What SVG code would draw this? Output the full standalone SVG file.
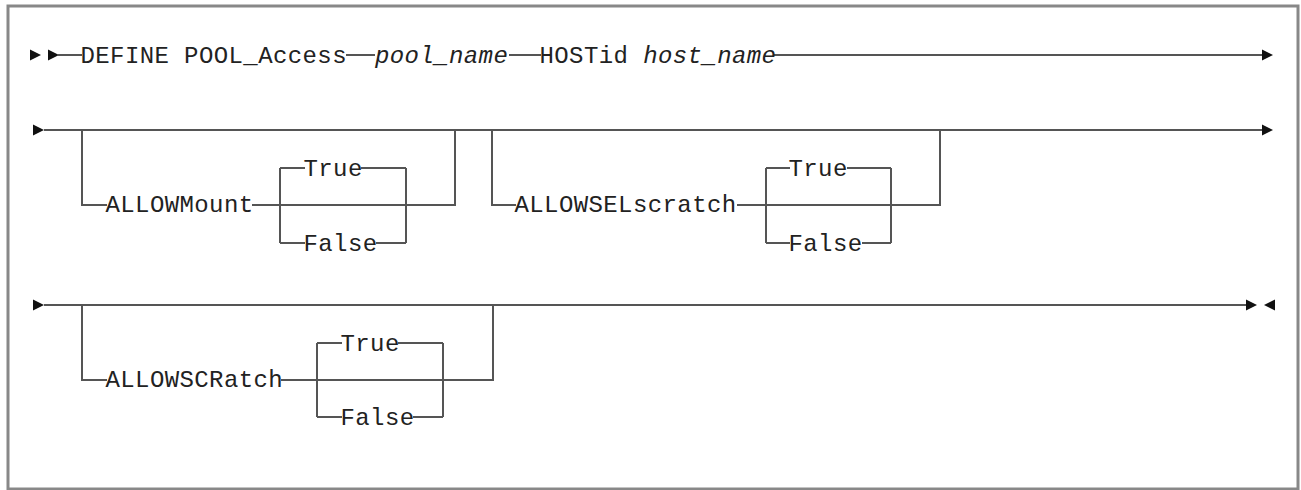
<svg xmlns="http://www.w3.org/2000/svg" width="1301" height="490" viewBox="0 0 1301 490">
<style>
.frame{fill:#fff;stroke:#888;stroke-width:3}
.ln{fill:none;stroke:#555;stroke-width:2}
.t{font-family:"Liberation Mono","DejaVu Sans Mono",monospace;font-size:24px;letter-spacing:0.4px;fill:#222}
.i{font-style:italic}
.ah{fill:#111}
</style>
<defs>
<path id="ar" d="M0,-5.5 L11,0 L0,5.5 Z"/>
<path id="al" d="M0,-5.5 L-11,0 L0,5.5 Z"/>
</defs>
<rect class="frame" x="8" y="6" width="1290" height="483"/>
<g id="connectors">
<use href="#ar" class="ah" x="30" y="55"/>
<use href="#ar" class="ah" x="48" y="55"/>
<path class="ln" d="M58,55 H82 M346,55 H375 M509,55 H541 M773,55 H1262"/>
<use href="#ar" class="ah" x="1262" y="55"/>
<use href="#ar" class="ah" x="33" y="130"/>
<path class="ln" d="M44,130 H1262"/>
<use href="#ar" class="ah" x="1262" y="130"/>
<path class="ln" d="M82,130 V205 H107 M252,205 H455 V130 M280,168 V243 M280,168 H305 M361,168 H406 M280,243 H305 M376,243 H406 M406,168 V243"/>
<path class="ln" d="M492,130 V205 H516 M737,205 H940 V130 M766,168 V243 M766,168 H790 M847,168 H891 M766,243 H790 M862,243 H891 M891,168 V243"/>
<use href="#ar" class="ah" x="33" y="305"/>
<path class="ln" d="M44,305 H1247"/>
<use href="#ar" class="ah" x="1246" y="305"/>
<use href="#al" class="ah" x="1275" y="305"/>
<path class="ln" d="M82,305 V380 H107 M281,380 H493 V305 M317,343 V417 M317,343 H342 M398,343 H443 M317,417 H342 M413,417 H443 M443,343 V417"/>
</g>
<g id="n-define"><text class="t" x="80.5" y="63">DEFINE POOL_Access</text></g>
<g id="n-poolname"><text class="t i" x="375" y="63">pool_name</text></g>
<g id="n-hostid"><text class="t" x="539.5" y="63">HOSTid <tspan class="i">host_name</tspan></text></g>
<g id="n-allowmount"><text class="t" x="105.5" y="212">ALLOWMount</text></g>
<g id="n-am-true"><text class="t" x="303.5" y="175.5">True</text></g>
<g id="n-am-false"><text class="t" x="303.5" y="250.5">False</text></g>
<g id="n-allowselscratch"><text class="t" x="514.5" y="212">ALLOWSELscratch</text></g>
<g id="n-as-true"><text class="t" x="788.5" y="175.5">True</text></g>
<g id="n-as-false"><text class="t" x="788.5" y="250.5">False</text></g>
<g id="n-allowscratch"><text class="t" x="105.5" y="387">ALLOWSCRatch</text></g>
<g id="n-sc-true"><text class="t" x="340.5" y="350.5">True</text></g>
<g id="n-sc-false"><text class="t" x="340.5" y="424.5">False</text></g>
</svg>
